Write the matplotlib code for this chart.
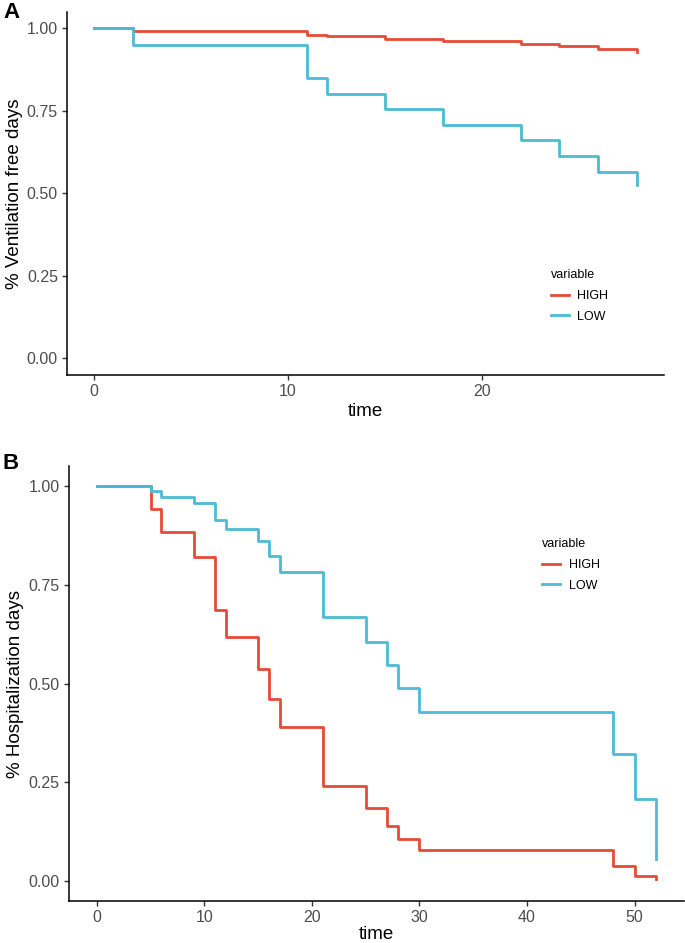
import matplotlib
matplotlib.use("Agg")
import matplotlib.pyplot as plt

plt.rcParams['font.family'] = ['Liberation Sans', 'DejaVu Sans']

# ---- Panel A data (ventilation free days) ----
a_time = [0, 2, 11, 12, 15, 18, 22, 24, 26, 28]
a_high = [1.0, 0.993, 0.981, 0.976, 0.969, 0.961, 0.953, 0.945, 0.936, 0.928]
a_low = [1.0, 0.95, 0.85, 0.80, 0.755, 0.707, 0.66, 0.613, 0.566, 0.525]

# ---- Panel B data (hospitalization days) ----
b_time = [0, 5, 6, 9, 11, 12, 15, 16, 17, 21, 25, 27, 28, 30, 48, 50, 52]
b_high = [1.0, 0.941, 0.883, 0.821, 0.686, 0.617, 0.538, 0.461, 0.390, 0.240,
          0.184, 0.139, 0.106, 0.078, 0.038, 0.013, 0.004]
b_low = [1.0, 0.987, 0.973, 0.957, 0.915, 0.891, 0.861, 0.823, 0.782, 0.668,
         0.606, 0.547, 0.488, 0.429, 0.321, 0.207, 0.055]

y_ticks = [0.0, 0.25, 0.5, 0.75, 1.0]
y_ticklabels = ["0.00", "0.25", "0.50", "0.75", "1.00"]
a_xticks = [0, 10, 20]
b_xticks = [0, 10, 20, 30, 40, 50]

C_HIGH = "#E64B35"
C_LOW = "#4DBBD5"

W, H = 685, 943
fig = plt.figure(figsize=(W / 100, H / 100), dpi=100)


def px_axes(left, top, right, bottom):
    return fig.add_axes([left / W, 1 - bottom / H, (right - left) / W, (bottom - top) / H])


def style(ax, xticks, xlim, ylabel, xpad):
    for s in ["top", "right"]:
        ax.spines[s].set_visible(False)
    for s in ["left", "bottom"]:
        ax.spines[s].set_linewidth(1.1)
        ax.spines[s].set_color("black")
    ax.set_xlim(*xlim)
    ax.set_ylim(-0.05, 1.05)
    ax.set_xticks(xticks)
    ax.set_yticks(y_ticks)
    ax.set_yticklabels(y_ticklabels)
    ax.tick_params(axis="both", direction="out", length=3.5, width=1.0,
                   color="#333333", labelsize=11.5, labelcolor="#4D4D4D", pad=3)
    ax.set_xlabel("time", fontsize=13.5, color="black", labelpad=xpad)
    ax.set_ylabel(ylabel, fontsize=13.5, color="black", labelpad=3)


# Panel A
axA = px_axes(67, 11.8, 664, 374.8)
axA.step(a_time, a_high, where="post", color=C_HIGH, lw=2.0, label="HIGH")
axA.step(a_time, a_low, where="post", color=C_LOW, lw=2.0, label="LOW")
style(axA, a_xticks, (-1.4, 29.4), "% Ventilation free days", 3)
axA.legend(title="variable", loc="upper left", bbox_to_anchor=(540 / W, 1 - 258 / H),
           bbox_transform=fig.transFigure, frameon=False, fontsize=9,
           title_fontsize=9, handlelength=1.4, handletextpad=0.7,
           labelspacing=0.7, alignment="left")

# Panel B
axB = px_axes(68.8, 466.3, 684, 900.75)
axB.step(b_time, b_high, where="post", color=C_HIGH, lw=2.0, label="HIGH")
axB.step(b_time, b_low, where="post", color=C_LOW, lw=2.0, label="LOW")
style(axB, b_xticks, (-2.6, 54.6), "% Hospitalization days", 1)
axB.legend(title="variable", loc="upper left", bbox_to_anchor=(531 / W, 1 - 527 / H),
           bbox_transform=fig.transFigure, frameon=False, fontsize=9,
           title_fontsize=9, handlelength=1.4, handletextpad=0.7,
           labelspacing=0.7, alignment="left")

fig.text(3 / W, 1 - 2 / H, "A", fontsize=16, fontweight="bold", va="top", ha="left")
fig.text(3 / W, 1 - 453 / H, "B", fontsize=16, fontweight="bold", va="top", ha="left")

fig.savefig("out.png", dpi=100)
